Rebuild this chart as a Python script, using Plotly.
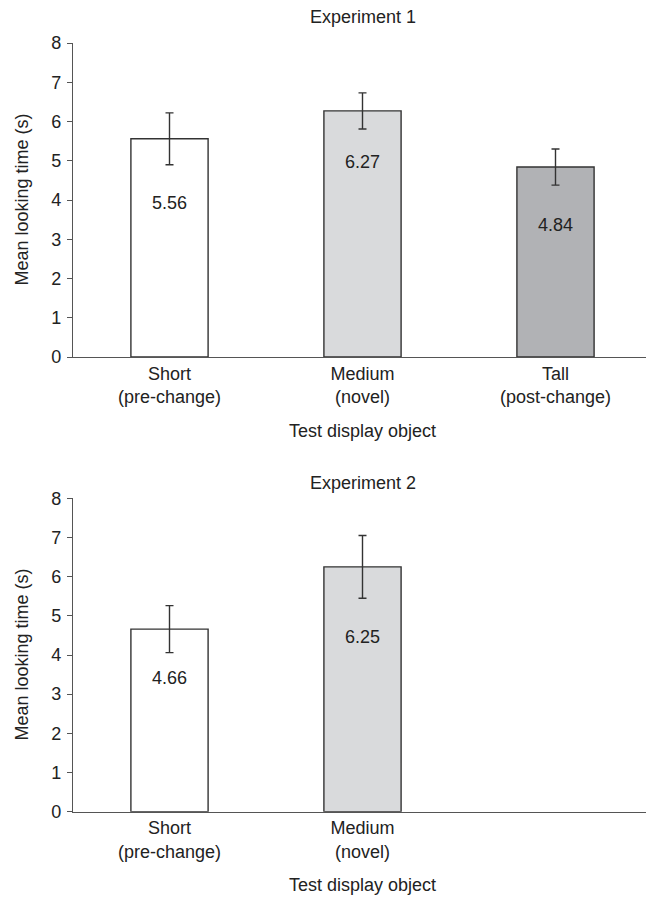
import plotly.graph_objects as go

categories = ["Short<br>(pre-change)", "Medium<br>(novel)", "Tall<br>(post-change)"]
exp1_means = [5.56, 6.27, 4.84]
exp1_errors = [0.66, 0.46, 0.46]
exp2_means = [4.66, 6.25]
exp2_errors = [0.60, 0.80]
bar_colors = ["#ffffff", "#d9dadc", "#b1b2b5"]
y_ticks = [0, 1, 2, 3, 4, 5, 6, 7, 8]

# offsets (below bar top) used to place the value labels as in the original
exp1_label_drop = [1.64, 1.29, 1.47]
exp2_label_drop = [1.25, 1.78]

FONT = "Liberation Sans, Arial, sans-serif"
FS = 18
TXT = "#222222"
LINE = "#333333"
AXC = "#555555"

fig = go.Figure()

def add_bars(means, errs, cats, colors, xa, ya):
    fig.add_trace(go.Bar(
        x=cats, y=means, xaxis=xa, yaxis=ya,
        marker=dict(color=colors, line=dict(color=LINE, width=1.4)),
        width=0.4,
        error_y=dict(type="data", array=errs, visible=True,
                     color=LINE, thickness=1.4, width=4),
        showlegend=False, hoverinfo="skip",
    ))

add_bars(exp1_means, exp1_errors, categories, bar_colors, "x", "y")
add_bars(exp2_means, exp2_errors, categories[:2], bar_colors[:2], "x2", "y2")

for cat, m, d in zip(categories, exp1_means, exp1_label_drop):
    fig.add_annotation(x=cat, y=m - d, xref="x", yref="y", text=f"{m:.2f}",
                       showarrow=False, font=dict(family=FONT, size=FS, color=TXT))
for cat, m, d in zip(categories[:2], exp2_means, exp2_label_drop):
    fig.add_annotation(x=cat, y=m - d, xref="x2", yref="y2", text=f"{m:.2f}",
                       showarrow=False, font=dict(family=FONT, size=FS, color=TXT))

H = 899.0
OFF = 8  # page body margin
def py(p):
    return 1 - (p - OFF) / H

xcommon = dict(type="category", categoryarray=categories, categoryorder="array",
               range=[-0.5, 2.5], showline=True, linecolor=AXC, linewidth=1.3,
               ticks="", showgrid=False, zeroline=False, automargin=False,
               tickfont=dict(family=FONT, size=FS, color=TXT), ticklabelstandoff=0)
ycommon = dict(range=[0, 8], tickvals=y_ticks, showline=True, linecolor=AXC,
               linewidth=1.3, ticks="outside", ticklen=5, tickcolor=AXC,
               tickwidth=1.3, showgrid=False, zeroline=False, automargin=False,
               tickfont=dict(family=FONT, size=FS, color=TXT), ticklabelstandoff=2)

fig.update_layout(
    width=654, height=899,
    margin=dict(l=65, r=10, t=0, b=0),
    paper_bgcolor="white", plot_bgcolor="white",
    bargap=0.6,
    xaxis=dict(**xcommon, anchor="y", domain=[0, 1]),
    yaxis=dict(**ycommon, anchor="x", domain=[py(357), py(43)]),
    xaxis2=dict(**xcommon, anchor="y2", domain=[0, 1],
                tickvals=categories[:2], ticktext=categories[:2]),
    yaxis2=dict(**ycommon, anchor="x2", domain=[py(811.7), py(498.3)]),
)

for text, y in [("Experiment 1", 17), ("Experiment 2", 483)]:
    fig.add_annotation(x=0.5, y=py(y), xref="paper", yref="paper", text=text,
                       showarrow=False, font=dict(family=FONT, size=FS, color=TXT),
                       yanchor="middle")
for y in [431, 885]:
    fig.add_annotation(x=0.5, y=py(y), xref="paper", yref="paper",
                       text="Test display object", showarrow=False,
                       font=dict(family=FONT, size=FS, color=TXT), yanchor="middle")
for yc in [(43 + 357) / 2, (498.3 + 811.7) / 2]:
    fig.add_annotation(x=0, xref="paper", xshift=-51.5, xanchor="center",
                       y=py(yc), yref="paper", yanchor="middle",
                       text="Mean looking time (s)", textangle=-90, showarrow=False,
                       font=dict(family=FONT, size=FS, color=TXT))

fig.write_html("out.html")
